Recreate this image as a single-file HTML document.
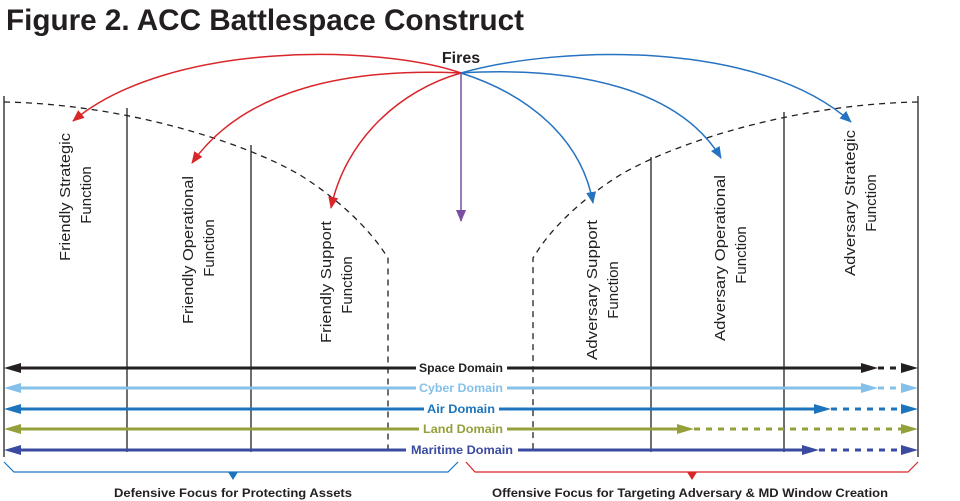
<!DOCTYPE html>
<html><head><meta charset="utf-8"><style>
html,body{margin:0;padding:0;background:#fff;}
svg{display:block;}
</style></head><body>
<svg width="960" height="501" viewBox="0 0 960 501" xmlns="http://www.w3.org/2000/svg" font-family="Liberation Sans, sans-serif">
<defs>
<marker id="ar" viewBox="0 0 12 10" refX="11" refY="5" markerWidth="8" markerHeight="7" orient="auto"><path d="M0,0 L12,5 L0,10 z" fill="#d9262b"/></marker>
<marker id="ab" viewBox="0 0 12 10" refX="11" refY="5" markerWidth="8" markerHeight="7" orient="auto"><path d="M0,0 L12,5 L0,10 z" fill="#2673c2"/></marker>
<marker id="ap" viewBox="0 0 12 10" refX="11" refY="5" markerWidth="8" markerHeight="7" orient="auto"><path d="M0,0 L12,5 L0,10 z" fill="#7a4ea0"/></marker>
</defs>
<text x="6" y="30" font-size="30" font-weight="bold" fill="#231f20" textLength="518" lengthAdjust="spacingAndGlyphs">Figure 2. ACC Battlespace Construct</text>
<text x="461" y="63" font-size="16" font-weight="bold" fill="#231f20" text-anchor="middle">Fires</text>

<g stroke="#231f20" stroke-width="1.3">
<line x1="4" y1="96" x2="4" y2="457"/>
<line x1="127" y1="108" x2="127" y2="452"/>
<line x1="251" y1="145" x2="251" y2="452"/>
<line x1="651" y1="157" x2="651" y2="452"/>
<line x1="784" y1="112" x2="784" y2="452"/>
<line x1="918" y1="96" x2="918" y2="457"/>
</g>
<g stroke="#231f20" stroke-width="1.3" fill="none" stroke-dasharray="6,5">
<path d="M4,102 C120,104 240,140 300,175 C340,200 370,230 386,255 L388,258 L388,452"/>
<path d="M918,102 C800,104 680,140 620,175 C580,200 550,230 535,255 L533,258 L533,452"/>
</g>

<g fill="none" stroke-width="1.5">
<path d="M461,73 C380,45 170,40 73,121" stroke="#d9262b" marker-end="url(#ar)"/>
<path d="M461,73 C350,68 245,88 192,163" stroke="#d9262b" marker-end="url(#ar)"/>
<path d="M461,73 C400,90 345,140 331,208" stroke="#d9262b" marker-end="url(#ar)"/>
<path d="M461,73 C530,95 582,140 593,203" stroke="#2673c2" marker-end="url(#ab)"/>
<path d="M461,73 C580,66 680,90 721,158" stroke="#2673c2" marker-end="url(#ab)"/>
<path d="M461,73 C560,45 760,40 851,122" stroke="#2673c2" marker-end="url(#ab)"/>
<line x1="461" y1="73" x2="461" y2="221" stroke="#7a4ea0" marker-end="url(#ap)"/>
</g>

<g font-size="15" fill="#231f20" text-anchor="middle">
<text transform="translate(70,197) rotate(-90)" textLength="128" lengthAdjust="spacingAndGlyphs">Friendly Strategic</text>
<text transform="translate(91,195) rotate(-90)">Function</text>
<text transform="translate(193,250) rotate(-90)" textLength="148" lengthAdjust="spacingAndGlyphs">Friendly Operational</text>
<text transform="translate(214,248) rotate(-90)">Function</text>
<text transform="translate(331,282) rotate(-90)" textLength="122" lengthAdjust="spacingAndGlyphs">Friendly Support</text>
<text transform="translate(352,285) rotate(-90)">Function</text>
<text transform="translate(597,290) rotate(-90)" textLength="140" lengthAdjust="spacingAndGlyphs">Adversary Support</text>
<text transform="translate(618,290) rotate(-90)">Function</text>
<text transform="translate(725,258) rotate(-90)" textLength="166" lengthAdjust="spacingAndGlyphs">Adversary Operational</text>
<text transform="translate(746,255) rotate(-90)">Function</text>
<text transform="translate(855,203) rotate(-90)" textLength="146" lengthAdjust="spacingAndGlyphs">Adversary Strategic</text>
<text transform="translate(876,203) rotate(-90)">Function</text>
</g>

<g stroke-width="3" fill="none">
<g stroke="#231f20"><line x1="12" y1="368" x2="416" y2="368"/><line x1="507" y1="368" x2="868" y2="368"/><line x1="878" y1="368" x2="908" y2="368" stroke-dasharray="6,6"/></g>
<g stroke="#84c1ea"><line x1="12" y1="388" x2="416" y2="388"/><line x1="507" y1="388" x2="868" y2="388"/><line x1="878" y1="388" x2="908" y2="388" stroke-dasharray="6,6"/></g>
<g stroke="#1c75bc"><line x1="12" y1="409" x2="424" y2="409"/><line x1="499" y1="409" x2="820" y2="409"/><line x1="831" y1="409" x2="908" y2="409" stroke-dasharray="6,6"/></g>
<g stroke="#95a03a"><line x1="12" y1="429" x2="419" y2="429"/><line x1="507" y1="429" x2="683" y2="429"/><line x1="694" y1="429" x2="908" y2="429" stroke-dasharray="6,6"/></g>
<g stroke="#3a4aa0"><line x1="12" y1="450" x2="406" y2="450"/><line x1="518" y1="450" x2="808" y2="450"/><line x1="819" y1="450" x2="908" y2="450" stroke-dasharray="6,6"/></g>
</g>
<g>
<path d="M4,368 L21,363 L21,373z" fill="#231f20"/><path d="M878,368 L861,363 L861,373z" fill="#231f20"/><path d="M918,368 L901,363 L901,373z" fill="#231f20"/>
<path d="M4,388 L21,383 L21,393z" fill="#84c1ea"/><path d="M878,388 L861,383 L861,393z" fill="#84c1ea"/><path d="M918,388 L901,383 L901,393z" fill="#84c1ea"/>
<path d="M4,409 L21,404 L21,414z" fill="#1c75bc"/><path d="M831,409 L814,404 L814,414z" fill="#1c75bc"/><path d="M918,409 L901,404 L901,414z" fill="#1c75bc"/>
<path d="M4,429 L21,424 L21,434z" fill="#95a03a"/><path d="M694,429 L677,424 L677,434z" fill="#95a03a"/><path d="M918,429 L901,424 L901,434z" fill="#95a03a"/>
<path d="M4,450 L21,445 L21,455z" fill="#3a4aa0"/><path d="M819,450 L802,445 L802,455z" fill="#3a4aa0"/><path d="M918,450 L901,445 L901,455z" fill="#3a4aa0"/>
</g>
<g font-size="12" font-weight="bold" text-anchor="middle">
<text x="461" y="372" fill="#231f20" textLength="84" lengthAdjust="spacingAndGlyphs">Space Domain</text>
<text x="461" y="392" fill="#84c1ea" textLength="84" lengthAdjust="spacingAndGlyphs">Cyber Domain</text>
<text x="461" y="413" fill="#1c75bc" textLength="68" lengthAdjust="spacingAndGlyphs">Air Domain</text>
<text x="463" y="433" fill="#95a03a" textLength="80" lengthAdjust="spacingAndGlyphs">Land Domain</text>
<text x="462" y="454" fill="#3a4aa0" textLength="102" lengthAdjust="spacingAndGlyphs">Maritime Domain</text>
</g>

<path d="M4,462 L14,472 L448,472 L458,462" fill="none" stroke="#1c75bc" stroke-width="1.2"/>
<path d="M228,472 L238,472 L233,480z" fill="#1c75bc"/>
<path d="M466,462 L475,472 L908,472 L918,462" fill="none" stroke="#d9262b" stroke-width="1.2"/>
<path d="M687,472 L697,472 L692,480z" fill="#d9262b"/>
<g font-size="12" font-weight="bold" fill="#231f20" text-anchor="middle">
<text x="233" y="497" textLength="238" lengthAdjust="spacingAndGlyphs">Defensive Focus for Protecting Assets</text>
<text x="690" y="497" textLength="396" lengthAdjust="spacingAndGlyphs">Offensive Focus for Targeting Adversary &amp; MD Window Creation</text>
</g>
</svg>
</body></html>
